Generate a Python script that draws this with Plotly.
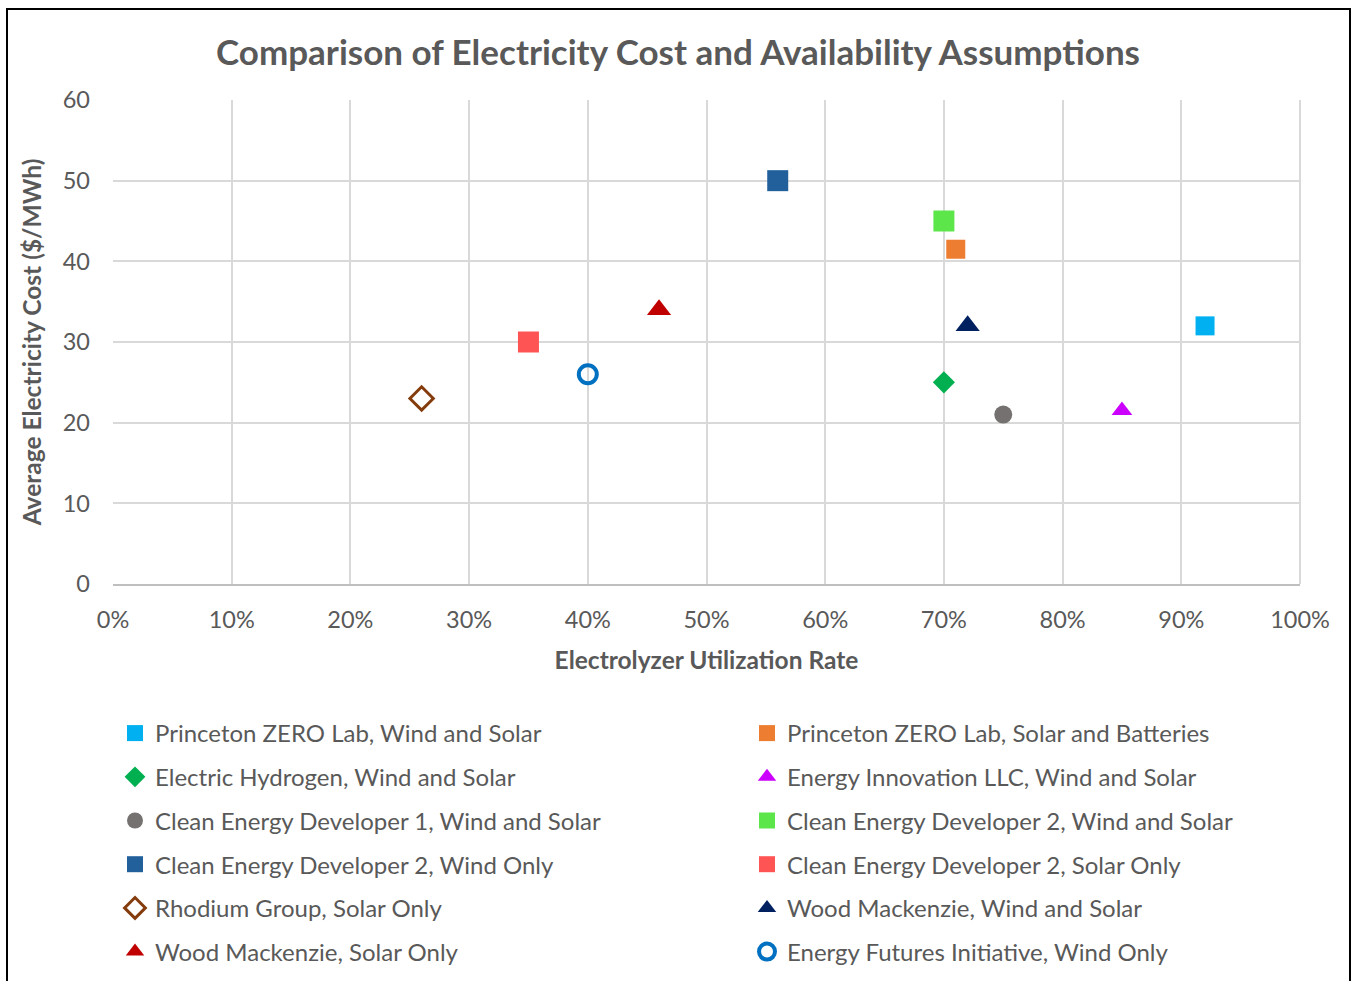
import plotly.graph_objects as go

# ---- data ----
names = [
    "Princeton ZERO Lab, Wind and Solar",
    "Princeton ZERO Lab, Solar and Batteries",
    "Electric Hydrogen, Wind and Solar",
    "Energy Innovation LLC, Wind and Solar",
    "Clean Energy Developer 1, Wind and Solar",
    "Clean Energy Developer 2, Wind and Solar",
    "Clean Energy Developer 2, Wind Only",
    "Clean Energy Developer 2, Solar Only",
    "Rhodium Group, Solar Only",
    "Wood Mackenzie, Wind and Solar",
    "Wood Mackenzie, Solar Only",
    "Energy Futures Initiative, Wind Only",
]
utilization = [0.92, 0.71, 0.70, 0.85, 0.75, 0.70, 0.56, 0.35, 0.26, 0.72, 0.46, 0.40]
cost = [32, 41.5, 25, 21.5, 21, 45, 50, 30, 23, 32, 34, 26]

x_ticks = [0, 0.1, 0.2, 0.3, 0.4, 0.5, 0.6, 0.7, 0.8, 0.9, 1.0]
y_ticks = [0, 10, 20, 30, 40, 50, 60]

# ---- styles ----
colors = ["#00B0F0", "#ED7D31", "#00B050", "#CC00FF", "#767171", "#5CE64A",
          "#22609C", "#FF5454", "#843C0C", "#002060", "#C00000", "#0070C0"]
symbols = ["square", "square", "diamond", "triangle-up", "circle", "square",
           "square", "square", "diamond-open", "triangle-up", "triangle-up", "circle-open"]
sizes = [19, 19, 17, 18, 18, 21, 21, 21, 18, 21, 21, 18]
line_w = [0, 0, 0, 0, 0, 0, 0, 0, 3, 0, 0, 4]

FONT = "Lato, Carlito, Calibri, sans-serif"
GREY = "#595959"

fig = go.Figure()
for i, nm in enumerate(names):
    fig.add_trace(go.Scatter(
        x=[utilization[i]], y=[cost[i]], mode="markers", name=nm,
        marker=dict(symbol=symbols[i], size=sizes[i], color=colors[i],
                    line=dict(width=line_w[i], color=colors[i])),
        legend="legend" if i % 2 == 0 else "legend2",
        legendgroup=f"g{i}",
    ))

# body margin is removed in the page, so figure pixels == screenshot pixels
W, H = 1354, 981
PL, PR, PT, PB = 113, 1300, 100, 584       # plot area in pixels
L, T, R, B = PL, PT, W - PR, H - PB
pw, ph = PR - PL, PB - PT

def px_x(p):
    return (p - PL) / pw

def px_y(p):
    return (PB - p) / ph

leg_common = dict(
    orientation="v", xanchor="left", yanchor="top",
    font=dict(family=FONT, size=24, color=GREY),
    bgcolor="rgba(0,0,0,0)", tracegroupgap=9.5, itemwidth=30,
)

fig.update_layout(
    width=W, height=H,
    margin=dict(l=L, r=R, t=T, b=B, autoexpand=False),
    paper_bgcolor="white", plot_bgcolor="white",
    title=dict(text="<b>Comparison of Electricity Cost and Availability Assumptions</b>",
               x=678 / W, xanchor="center",
               y=1 - 53 / H, yanchor="middle",
               font=dict(family=FONT, size=35, color=GREY)),
    font=dict(family=FONT, color=GREY),
    legend=dict(x=px_x(115), y=px_y(711), **leg_common),
    legend2=dict(x=px_x(747), y=px_y(711), **leg_common),
    xaxis=dict(range=[0, 1], tickvals=x_ticks, tickformat=".0%",
               showgrid=True, gridcolor="#D9D9D9", gridwidth=2,
               showline=True, linecolor="#BFBFBF", linewidth=2,
               zeroline=False, ticks="", ticklabelstandoff=14,
               tickfont=dict(family=FONT, size=23.5, color=GREY),
               title=dict(text="<b>Electrolyzer Utilization Rate</b>", standoff=20,
                          font=dict(family=FONT, size=24.5, color=GREY))),
    yaxis=dict(range=[0, 60], tickvals=y_ticks,
               showgrid=True, gridcolor="#D9D9D9", gridwidth=2,
               showline=False, zeroline=False, ticks="", ticklabelstandoff=22,
               tickfont=dict(family=FONT, size=23.5, color=GREY),
               title=dict(text="<b>Average Electricity Cost ($/MWh)</b>", standoff=14,
                          font=dict(family=FONT, size=24.5, color=GREY))),
    shapes=[
        dict(type="rect", xref="paper", yref="paper",
             x0=px_x(7), x1=px_x(1350), y0=px_y(1000), y1=px_y(9),
             line=dict(color="black", width=2), fillcolor="rgba(0,0,0,0)", layer="below"),
        dict(type="line", xref="paper", yref="paper", x0=1, x1=1, y0=0, y1=1,
             line=dict(color="#D9D9D9", width=2)),
    ],
)

fig.write_html(
    "out.html",
    config={"displayModeBar": False},
    post_script="document.body.style.margin='0';document.body.style.overflow='hidden';",
)
